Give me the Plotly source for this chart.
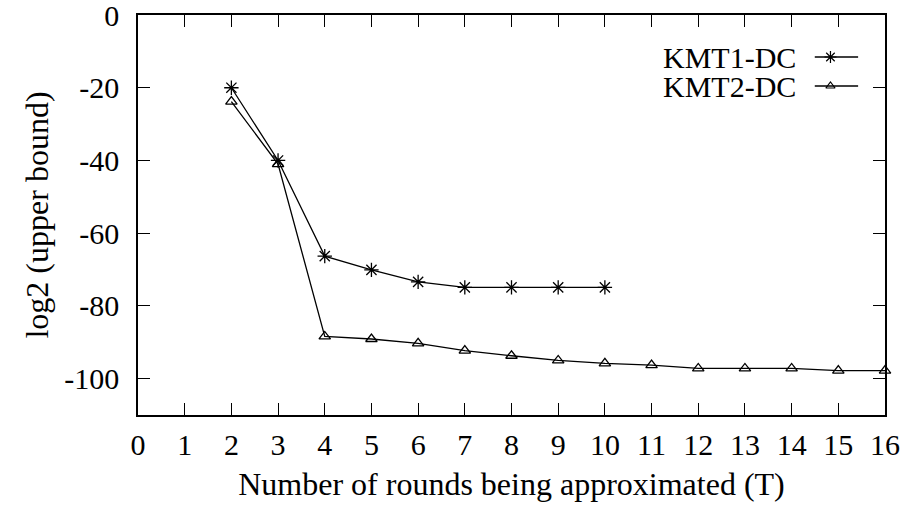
import plotly.graph_objects as go

# Data
kmt1_x = [2, 3, 4, 5, 6, 7, 8, 9, 10]
kmt1_y = [-20, -40, -66.3, -70.1, -73.4, -74.9, -74.9, -74.9, -74.9]
kmt2_x = [2, 3, 4, 5, 6, 7, 8, 9, 10, 11, 12, 13, 14, 15, 16]
kmt2_y = [-23.8, -41, -88.4, -89.1, -90.3, -92.3, -93.7, -95.0, -95.8, -96.3,
          -97.2, -97.2, -97.2, -97.8, -97.8]
series_names = ["KMT1-DC", "KMT2-DC"]
x_ticks = list(range(0, 17))
y_ticks = [0, -20, -40, -60, -80, -100]
y_tick_labels = ["0", "-20", "-40", "-60", "-80", "-100"]

FONT = "Liberation Serif, Times New Roman, serif"
TICK_FS = 30
TITLE_FS = 32
LEG_FS = 30

fig = go.Figure()
fig.add_trace(go.Scatter(x=kmt1_x, y=kmt1_y, mode="lines+markers", name=series_names[0],
                         line=dict(color="black", width=1.3),
                         marker=dict(symbol="asterisk-open", size=12, color="black",
                                     line=dict(color="black", width=1.3)),
                         cliponaxis=False, showlegend=False))
fig.add_trace(go.Scatter(x=kmt2_x, y=kmt2_y, mode="lines+markers", name=series_names[1],
                         line=dict(color="black", width=1.3),
                         marker=dict(symbol="triangle-up-open", size=10, color="black",
                                     line=dict(color="black", width=1.3)),
                         cliponaxis=False, showlegend=False))

# Legend samples on an invisible overlay axis (0..1 of the plot area)
legend_rows = [0.895, 0.8225]
symbols = ["asterisk-open", "triangle-up-open"]
sizes = [12, 10]
for i in range(2):
    fig.add_trace(go.Scatter(x=[0.906, 0.964], y=[legend_rows[i]] * 2, mode="lines",
                             line=dict(color="black", width=1.3), xaxis="x2", yaxis="y2",
                             showlegend=False, hoverinfo="skip"))
    fig.add_trace(go.Scatter(x=[0.927], y=[legend_rows[i]], mode="markers",
                             marker=dict(symbol=symbols[i], size=sizes[i] - 2, color="black",
                                         line=dict(color="black", width=1.2)),
                             xaxis="x2", yaxis="y2", showlegend=False, hoverinfo="skip"))
    fig.add_annotation(x=0.884, y=legend_rows[i], xref="x2", yref="y2", text=series_names[i],
                       showarrow=False, xanchor="right", yanchor="middle",
                       font=dict(family=FONT, size=LEG_FS, color="black"))

fig.update_layout(
    width=903, height=522,
    margin=dict(l=138, r=18, t=15, b=107, autoexpand=False),
    paper_bgcolor="white", plot_bgcolor="white",
    font=dict(family=FONT, size=TICK_FS, color="black"),
    xaxis=dict(range=[0, 16], tickvals=x_ticks, ticks="inside", ticklen=12, tickwidth=1.2,
               tickcolor="black", showline=True, linecolor="black", linewidth=1.5,
               mirror="allticks", showgrid=False, zeroline=False, automargin=False,
               ticklabeloverflow="allow", ticklabelstandoff=2,
               title=dict(text="Number of rounds being approximated (T)", standoff=13,
                          font=dict(family=FONT, size=TITLE_FS)),
               tickfont=dict(family=FONT, size=TICK_FS, color="black")),
    yaxis=dict(range=[-110, 0], tickvals=y_ticks, ticktext=y_tick_labels, ticks="inside",
               ticklen=12, tickwidth=1.2, tickcolor="black", showline=True, linecolor="black",
               linewidth=1.5, mirror="allticks", showgrid=False, zeroline=False,
               automargin=False, ticklabeloverflow="allow", ticklabelstandoff=11,
               title=dict(text="log2 (upper bound)", standoff=6,
                          font=dict(family=FONT, size=TITLE_FS)),
               tickfont=dict(family=FONT, size=TICK_FS, color="black")),
    xaxis2=dict(range=[0, 1], overlaying="x", visible=False, fixedrange=True),
    yaxis2=dict(range=[0, 1], overlaying="y", visible=False, fixedrange=True),
)

fig.write_html("out.html", config={"displayModeBar": False},
               post_script="document.body.style.margin='0';document.body.style.overflow='hidden';")
